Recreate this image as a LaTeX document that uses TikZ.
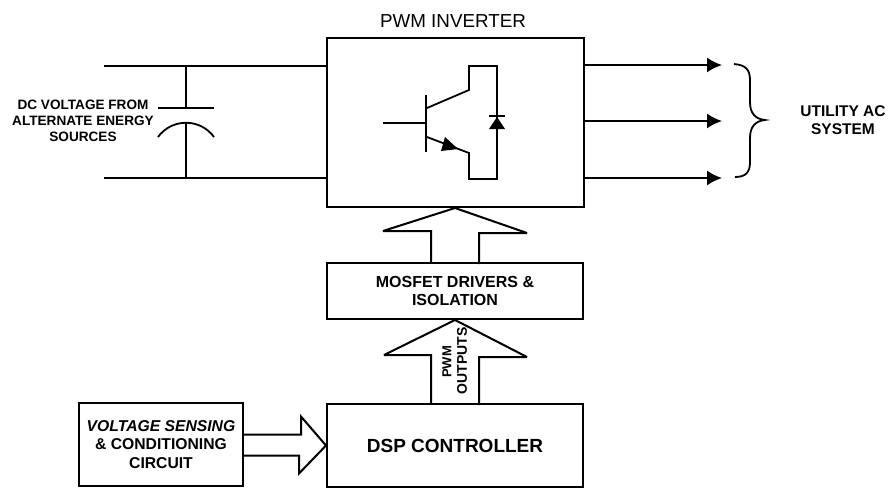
\documentclass[tikz,border=0pt]{standalone}
\usepackage{fontspec}
\setmainfont{Liberation Sans}
\usetikzlibrary{arrows.meta}
\tikzset{
  blockbox/.style={draw,line width=2pt,minimum width=#1,inner sep=0pt,align=center},
  wire/.style={line width=1.8pt},
  fatarrow/.style={line width=2pt,line join=miter,miter limit=3},
  power/.style={line width=1.8pt,-{Latex[length=15pt,width=15pt]}},
  lab/.style 2 args={font=\fontsize{#1}{#2}\selectfont\bfseries,align=center,inner sep=0pt}
}
\begin{document}
\begin{tikzpicture}[x=1pt,y=-1pt]
        \useasboundingbox (0,0) rectangle (889,488);
        %boxes
        \node [blockbox=257pt,minimum height=169pt] (inverter) at (455,122.5) {};
        \node [blockbox=256pt,minimum height=56pt,lab={16}{18}] (drivers) at (455,291) {MOSFET DRIVERS \&\\ISOLATION};
        \node [blockbox=256pt,minimum height=83pt,lab={19}{22}] (dsp) at (455,445.5) {DSP CONTROLLER};
        \node [blockbox=164pt,minimum height=83pt,lab={15.7}{18.5}] (sensing) at (161,444.5) {\textit{VOLTAGE SENSING}\\\&\ CONDITIONING\\CIRCUIT};
        %labels
        \node [font=\fontsize{18.8}{20}\selectfont,inner sep=0pt] (title) at (453,21) {PWM INVERTER};
        \node [lab={13.6}{16}] (source) at (83,121) {DC VOLTAGE FROM\\ALTERNATE ENERGY\\SOURCES};
        \node [lab={15.5}{18}] (utility) at (843,120) {UTILITY AC\\SYSTEM};
        \node [lab={13}{15},rotate=90] (pwm) at (447,362) {PWM};
        \node [lab={14}{16},rotate=90] (outputs) at (462,361) {OUTPUTS};
        %dc bus
        \coordinate (dcplus) at (104,66);
        \coordinate (dcminus) at (104,178);
        \draw [wire] (dcplus)--(dcplus -| inverter.west);
        \draw [wire] (dcminus)--(dcminus -| inverter.west);
        %capacitor
        \coordinate (plate) at (186,108);
        \coordinate (arctop) at (186,122);
        \draw [wire] (plate |- dcplus)--(plate);
        \draw [wire] (158,108)--(214,108);
        \draw [wire] (158,137) .. controls (172,118) and (200,118) .. (214,137);
        \draw [wire] (arctop)--(arctop |- dcminus);
        %transistor and diode
        \coordinate (gate) at (383,123);
        \draw [wire] (gate)--(426,123);
        \draw [wire] (426,95)--(426,152);
        \draw [wire] (427,108)--(469,90)--(469,66)--(497,66)--(497,179)--(469,179)--(469,153)--(427,137);
        \fill (458,149)--(441,151)--(445,137)--cycle;
        \fill (497,117)--(505,129)--(489,129)--cycle;
        \draw [wire] (489,116)--(505,116);
        %ac outputs
        \foreach \y/\name in {65/ua,121/ub,178/uc}{
          \coordinate (\name) at (722,\y);
          \draw [power] (\name -| inverter.east)--(\name);
        }
        %brace
        \draw [wire] (734,64) .. controls (746,65) and (750,70) .. (750,80)--(750,102) .. controls (750,113) and (755,119) .. (765,120) .. controls (755,121) and (750,127) .. (750,138)--(750,162) .. controls (750,172) and (746,177) .. (735,177);
        %block arrows
        \draw [fatarrow] (drivers.north) ++(-24,0) --++(0,-31)--++(-48,0)--(inverter.south)--++(72,25)--++(-48,0)--++(0,31);
        \draw [fatarrow] (dsp.north) ++(-24,0) --++(0,-48)--++(-47,0)--(drivers.south)--++(72,37)--++(-48,0)--++(0,48);
        \draw [fatarrow] (sensing.east) ++(0,-10) --++(57,0)--++(0,-18)--(dsp.west)--++(-27,28)--++(0,-18)--++(-57,0);
    \end{tikzpicture}
\end{document}
